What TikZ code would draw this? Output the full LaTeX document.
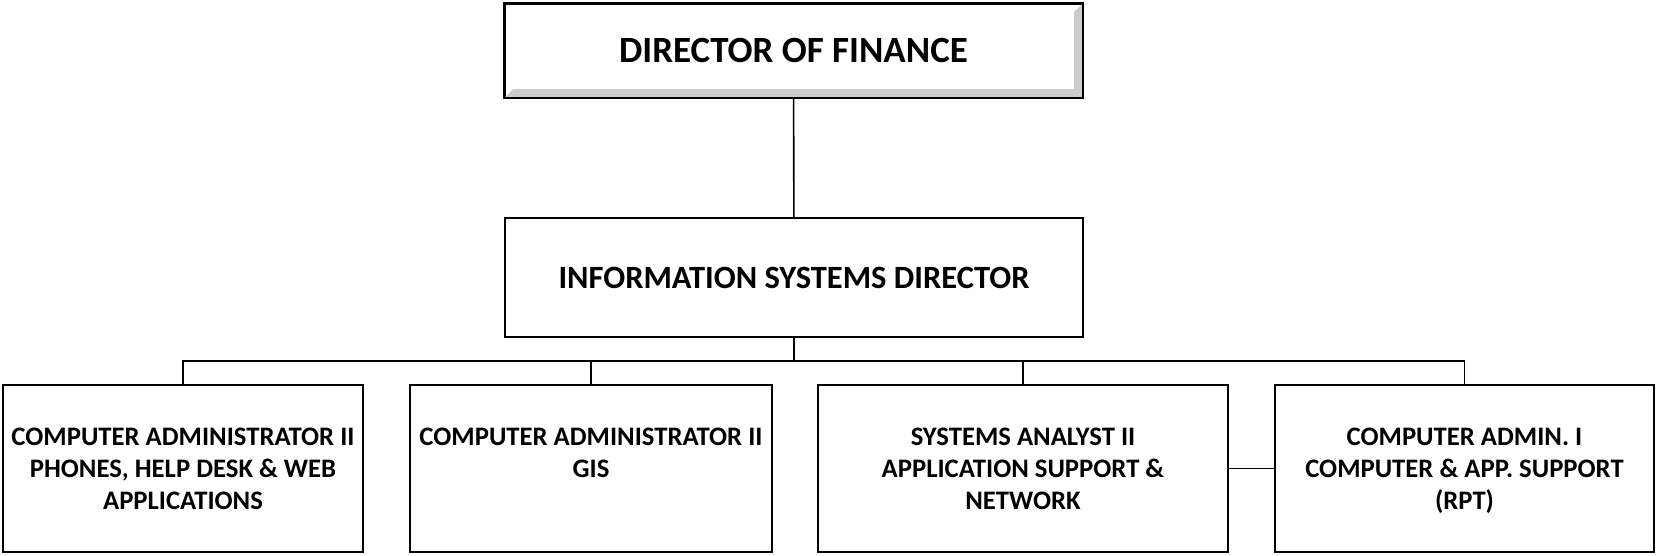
\documentclass[tikz,border=0pt]{standalone}
\usepackage{fontspec}
\setmainfont{Carlito}
\usepackage{tikz}
\usetikzlibrary{positioning, calc}

\begin{document}
\begin{tikzpicture}[x=1pt, y=-1pt,
  every node/.style={font=\bfseries},
  post/.style={draw, line width=1.8pt, inner sep=0pt, align=center},
  staff/.style={post, minimum height=167, text depth=0pt},
  link/.style={line width=1.6pt}]

\useasboundingbox (0,0) rectangle (1656,555);

%// top of the chart
\node [post, line width=2.2pt, minimum width=577, minimum height=93,
       font=\bfseries\fontsize{37}{44}\selectfont] (fin) at (793.5,50.5) {DIRECTOR OF FINANCE};
\fill [gray!40] (fin.south west) -- (fin.south east) -- (fin.north east)
   -- ($(fin.north east)+(-9,9)$) -- ($(fin.south east)+(-9,-9)$)
   -- ($(fin.south west)+(9,-9)$) -- cycle;
\draw [line width=2.2pt] (fin.south west) rectangle (fin.north east);

\node [post, minimum width=578, minimum height=119,
       font=\bfseries\fontsize{32.5}{38}\selectfont] (isd) at (794,277.5) {INFORMATION SYSTEMS DIRECTOR};

\draw [link] (fin) -- (isd);

\coordinate (bus) at (794,361);
\draw [link] (isd) -- (bus);

%// staff boxes
\foreach \nm/\cx/\bw/\txt in {
  b1/183/360/{COMPUTER ADMINISTRATOR II\\PHONES, HELP DESK \& WEB\\APPLICATIONS},
  b2/591/362/{COMPUTER ADMINISTRATOR II\\GIS\\\mbox{}},
  b3/1023/410/{SYSTEMS ANALYST II\\APPLICATION SUPPORT \&\\NETWORK},
  b4/1464.5/379/{COMPUTER ADMIN. I\\COMPUTER \& APP. SUPPORT\\(RPT)}}
\node [staff, minimum width=\bw, font=\bfseries\fontsize{26.7}{32}\selectfont] (\nm) at (\cx,468.5) {\txt};

\foreach \nm in {b1,b2,b3,b4}
\draw [link] (\nm.north) |- (bus);

\draw [link] (b3) -- (b4);
\end{tikzpicture}
\end{document}
